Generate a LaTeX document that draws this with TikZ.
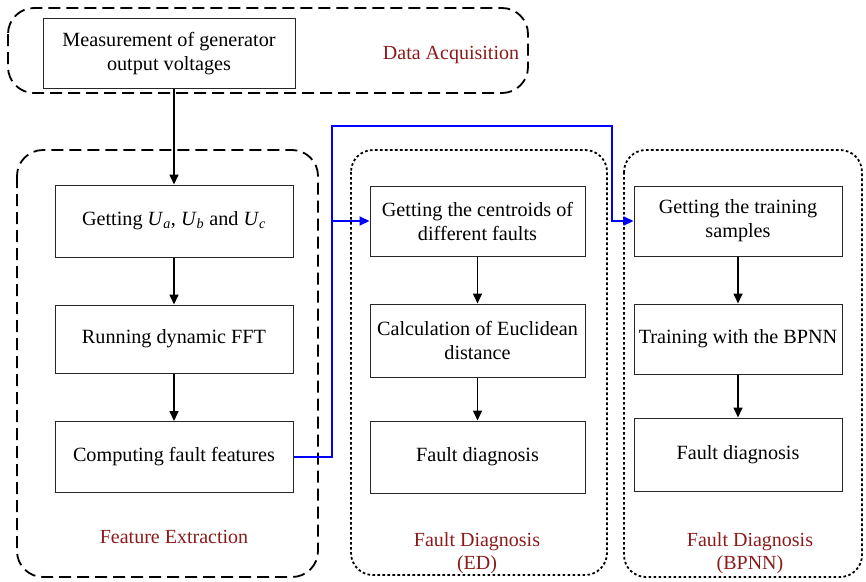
\documentclass[tikz,border=0pt]{standalone}
\usepackage{fontspec}
\setmainfont{Liberation Serif}
\usetikzlibrary{arrows.meta}
\definecolor{lblred}{RGB}{139,26,26}
\tikzset{
  box/.style={draw=black!85, line width=1pt, align=center, inner sep=0pt,
    font=\fontsize{20.2}{24}\selectfont},
  grp/.style={line width=1.8pt, dash pattern=on 12pt off 6pt, rounded corners=26pt},
  dgrp/.style={line width=1.8pt, dash pattern=on 2.6pt off 2.4pt, rounded corners=22pt},
  lbl/.style={text=lblred, align=center, font=\fontsize{20}{23}\selectfont},
  arr/.style={line width=1.6pt, -{Triangle[length=10pt,width=9pt]}},
  barr/.style={blue, line width=2pt, -{Triangle[length=10pt,width=9pt]}}
}
\begin{document}
\begin{tikzpicture}[x=1pt,y=-1pt]
\useasboundingbox (0,0) rectangle (866,581);
% groups
\draw[grp] (8,8) rectangle (528,93);
\draw[grp] (17,150) rectangle (318,577);
\draw[dgrp] (351,150) rectangle (607,575);
\draw[dgrp] (624,150) rectangle (862,577);
% boxes
\node[box, minimum width=252pt, minimum height=70pt] (meas) at (169,53.5) {Measurement of generator\\output voltages};
\node[box, minimum width=238pt, minimum height=72pt] (ua) at (174,221) {Getting \textit{U}\textsubscript{\textit{a}}, \textit{U}\textsubscript{\textit{b}} and \textit{U}\textsubscript{\textit{c}}};
\node[box, minimum width=238pt, minimum height=68pt] (fft) at (174,339) {Running dynamic FFT};
\node[box, minimum width=238pt, minimum height=71pt] (comp) at (174,457) {Computing fault features};
\node[box, minimum width=215pt, minimum height=70pt] (cent) at (477.5,221) {Getting the centroids of\\different faults};
\node[box, minimum width=215pt, minimum height=73pt] (eucl) at (477.5,340.5) {Calculation of Euclidean\\distance};
\node[box, minimum width=215pt, minimum height=72pt] (fd1) at (477.5,457) {Fault diagnosis};
\node[box, minimum width=208pt, minimum height=70pt] (train) at (738,221) {Getting the training\\samples};
\node[box, minimum width=208pt, minimum height=70pt] (bpnn) at (738,339) {Training with the BPNN};
\node[box, minimum width=208pt, minimum height=73pt] (fd2) at (738,454.5) {Fault diagnosis};
% labels
\node[lbl] (l1) at (451,55) {Data Acquisition};
\node[lbl] (l2) at (174,537) {Feature Extraction};
\node[lbl] (l3) at (477,553) {Fault Diagnosis\\(ED)};
\node[lbl] (l4) at (750,553) {Fault Diagnosis\\(BPNN)};
% black arrows
\draw[arr] (meas.south -| ua.north) -- (ua.north);
\draw[arr] (ua) -- (fft);
\draw[arr] (fft) -- (comp);
\draw[arr] (cent) -- (eucl);
\draw[arr] (eucl) -- (fd1);
\draw[arr] (train) -- (bpnn);
\draw[arr] (bpnn) -- (fd2);
% blue connector
\coordinate (bl) at (332,126);
\coordinate (br) at (612,126);
\draw[barr] (comp.east) -| (bl) -- (br) |- (train.west);
\draw[barr] (bl |- cent.west) -- (cent.west);
\end{tikzpicture}
\end{document}
